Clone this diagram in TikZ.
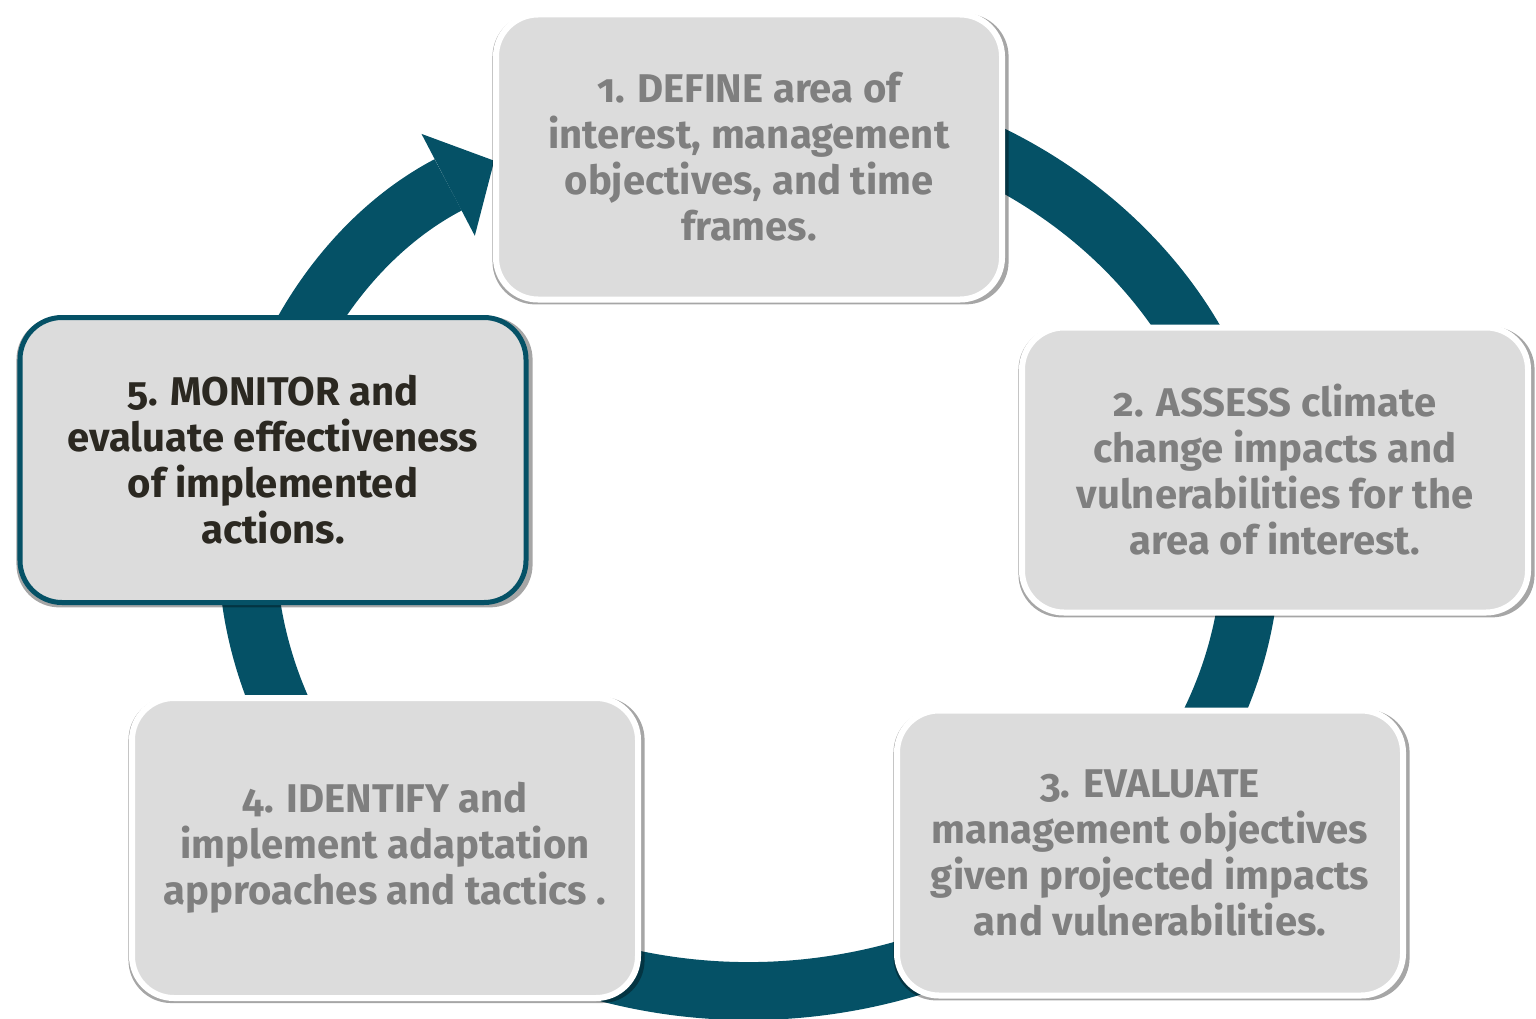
\documentclass[tikz,border=0pt]{standalone}
\usepackage{fontspec}
\setmainfont{Fira Sans}[Numbers=OldStyle]
\usetikzlibrary{arrows.meta,shadows}
\definecolor{ring-teal}{RGB}{5,81,102}
\definecolor{box-gray}{RGB}{220,220,220}
\definecolor{text-gray}{RGB}{127,127,127}
\definecolor{text-dark}{RGB}{43,40,33}

\begin{document}
\begin{tikzpicture}[
    box/.style={rectangle, draw=white, line width=0.06cm, fill=box-gray, rounded corners=0.42cm, minimum width=5.06cm, minimum height=2.85cm, align=center, font=\bfseries\fontsize{11.4}{13.1}\selectfont, text=text-gray, drop shadow={shadow xshift=0.015cm, shadow yshift=-0.02cm, shadow scale=1.02, fill=black, opacity=0.35}},
    focus/.style={box, draw=ring-teal, line width=0.05cm, text=text-dark},
    ring/.style={draw=ring-teal, line width=0.58cm, -{Triangle[width=1.15cm, length=0.52cm, line width=0pt]}}]

    \useasboundingbox (0,0) rectangle (15.36,10.18);

    % Ring arrow
    \coordinate (ctr) at (7.49,4.73);
    \draw[ring] ([shift={(100:5.02cm and 4.46cm)}]ctr) arc[start angle=100, end angle=-239.5, x radius=5.02cm, y radius=4.46cm];

    % Boxes
    \node[box] (define) at (7.49,8.61) {1. DEFINE area of\\interest, management\\objectives, and time\\frames.};
    \node[box] (assess) at (12.75,5.48) {2. ASSESS climate\\change impacts and\\vulnerabilities for the\\area of interest.};
    \node[box] (evaluate) at (11.50,1.65) {3. EVALUATE\\management objectives\\given projected impacts\\and vulnerabilities.};
    \node[box, minimum height=3.0cm] (identify) at (3.85,1.70) {4. IDENTIFY and\\implement adaptation\\approaches and tactics .};
    \node[focus] (monitor) at (2.73,5.58) {5. MONITOR and\\evaluate effectiveness\\of implemented\\actions.};
\end{tikzpicture}
\end{document}
